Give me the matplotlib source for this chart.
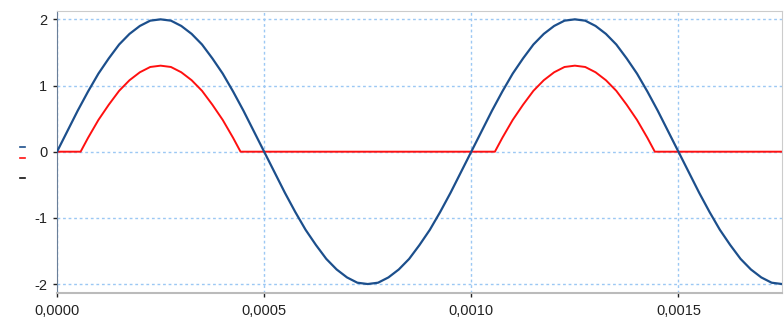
import numpy as np
import matplotlib
matplotlib.use('Agg')
import matplotlib.pyplot as plt
from matplotlib.lines import Line2D
from matplotlib.ticker import FuncFormatter


# sample step of the input signal (s)
dt = 0.000025

# input voltage, every 25 us
v_in = [0, 0.31, 0.62, 0.91, 1.18, 1.41, 1.62, 1.78, 1.90, 1.98,
        2.00, 1.98, 1.90, 1.78, 1.62, 1.41, 1.18, 0.91, 0.62, 0.31,
        0, -0.31, -0.62, -0.91, -1.18, -1.41, -1.62, -1.78, -1.90, -1.98,
        -2.00, -1.98, -1.90, -1.78, -1.62, -1.41, -1.18, -0.91, -0.62, -0.31,
        0, 0.31, 0.62, 0.91, 1.18, 1.41, 1.62, 1.78, 1.90, 1.98,
        2.00, 1.98, 1.90, 1.78, 1.62, 1.41, 1.18, 0.91, 0.62, 0.31,
        0, -0.31, -0.62, -0.91, -1.18, -1.41, -1.62, -1.78, -1.90, -1.98,
        -2.00]

# output voltage after the diode
t_out = [0, 0.000057, 0.000075, 0.000100, 0.000125, 0.000150, 0.000175,
         0.000200, 0.000225, 0.000250, 0.000275, 0.000300, 0.000325,
         0.000350, 0.000375, 0.000400, 0.000425, 0.000443,
         0.001057, 0.001075, 0.001100, 0.001125, 0.001150, 0.001175,
         0.001200, 0.001225, 0.001250, 0.001275, 0.001300, 0.001325,
         0.001350, 0.001375, 0.001400, 0.001425, 0.001443, 0.00175]
v_out = [0, 0, 0.21, 0.48, 0.71, 0.92, 1.08,
         1.20, 1.28, 1.30, 1.28, 1.20, 1.08,
         0.92, 0.71, 0.48, 0.21, 0,
         0, 0.21, 0.48, 0.71, 0.92, 1.08,
         1.20, 1.28, 1.30, 1.28, 1.20, 1.08,
         0.92, 0.71, 0.48, 0.21, 0, 0]

x_ticks = [0, 0.0005, 0.0010, 0.0015]
y_ticks = [-2, -1, 0, 1, 2]


def main():
    plt.rcParams['font.family'] = ['Liberation Sans', 'DejaVu Sans']

    t_in = np.arange(len(v_in)) * dt

    fig = plt.figure(figsize=(7.84, 3.2), dpi=100)
    ax = fig.add_axes([57/784, 1 - 293.3/320, 725/784, (293.3 - 11)/320])

    ax.plot(t_in, v_in, color='#1c4f8c', lw=1.6, zorder=3)
    ax.plot(t_out, v_out, color='#ff1010', lw=1.4, zorder=2)

    ax.set_xlim(0, 0.00175)
    ax.set_ylim(-2.14, 2.126)
    ax.set_xticks(x_ticks)
    ax.set_yticks(y_ticks)
    ax.xaxis.set_major_formatter(FuncFormatter(lambda v, p: ('%.4f' % v).replace('.', ',')))
    ax.yaxis.set_major_formatter(FuncFormatter(lambda v, p: '%d' % v))
    ax.tick_params(labelsize=10.5, colors='#222222', length=3, width=1)
    ax.tick_params(axis='y', pad=4)
    ax.tick_params(axis='x', pad=5)

    ax.grid(True, color='#9cc8f4', linestyle=(0, (2, 2)), lw=1.0, zorder=0)

    for s in ['top', 'right']:
        ax.spines[s].set_color('#cccccc')
    ax.spines['bottom'].set_color('#bbbbbb')
    ax.spines['bottom'].set_linewidth(1.5)
    ax.spines['left'].set_color('#6a7f99')

    # little series markers on the left edge
    for y, c in [(147, '#1c4f8c'), (158, '#ff1010'), (178, '#111111')]:
        fig.add_artist(Line2D([20/784, 25/784], [1 - y/320, 1 - y/320],
                              color=c, lw=1.2))

    fig.savefig('out.png', dpi=100)


if __name__ == "__main__":
    main()
